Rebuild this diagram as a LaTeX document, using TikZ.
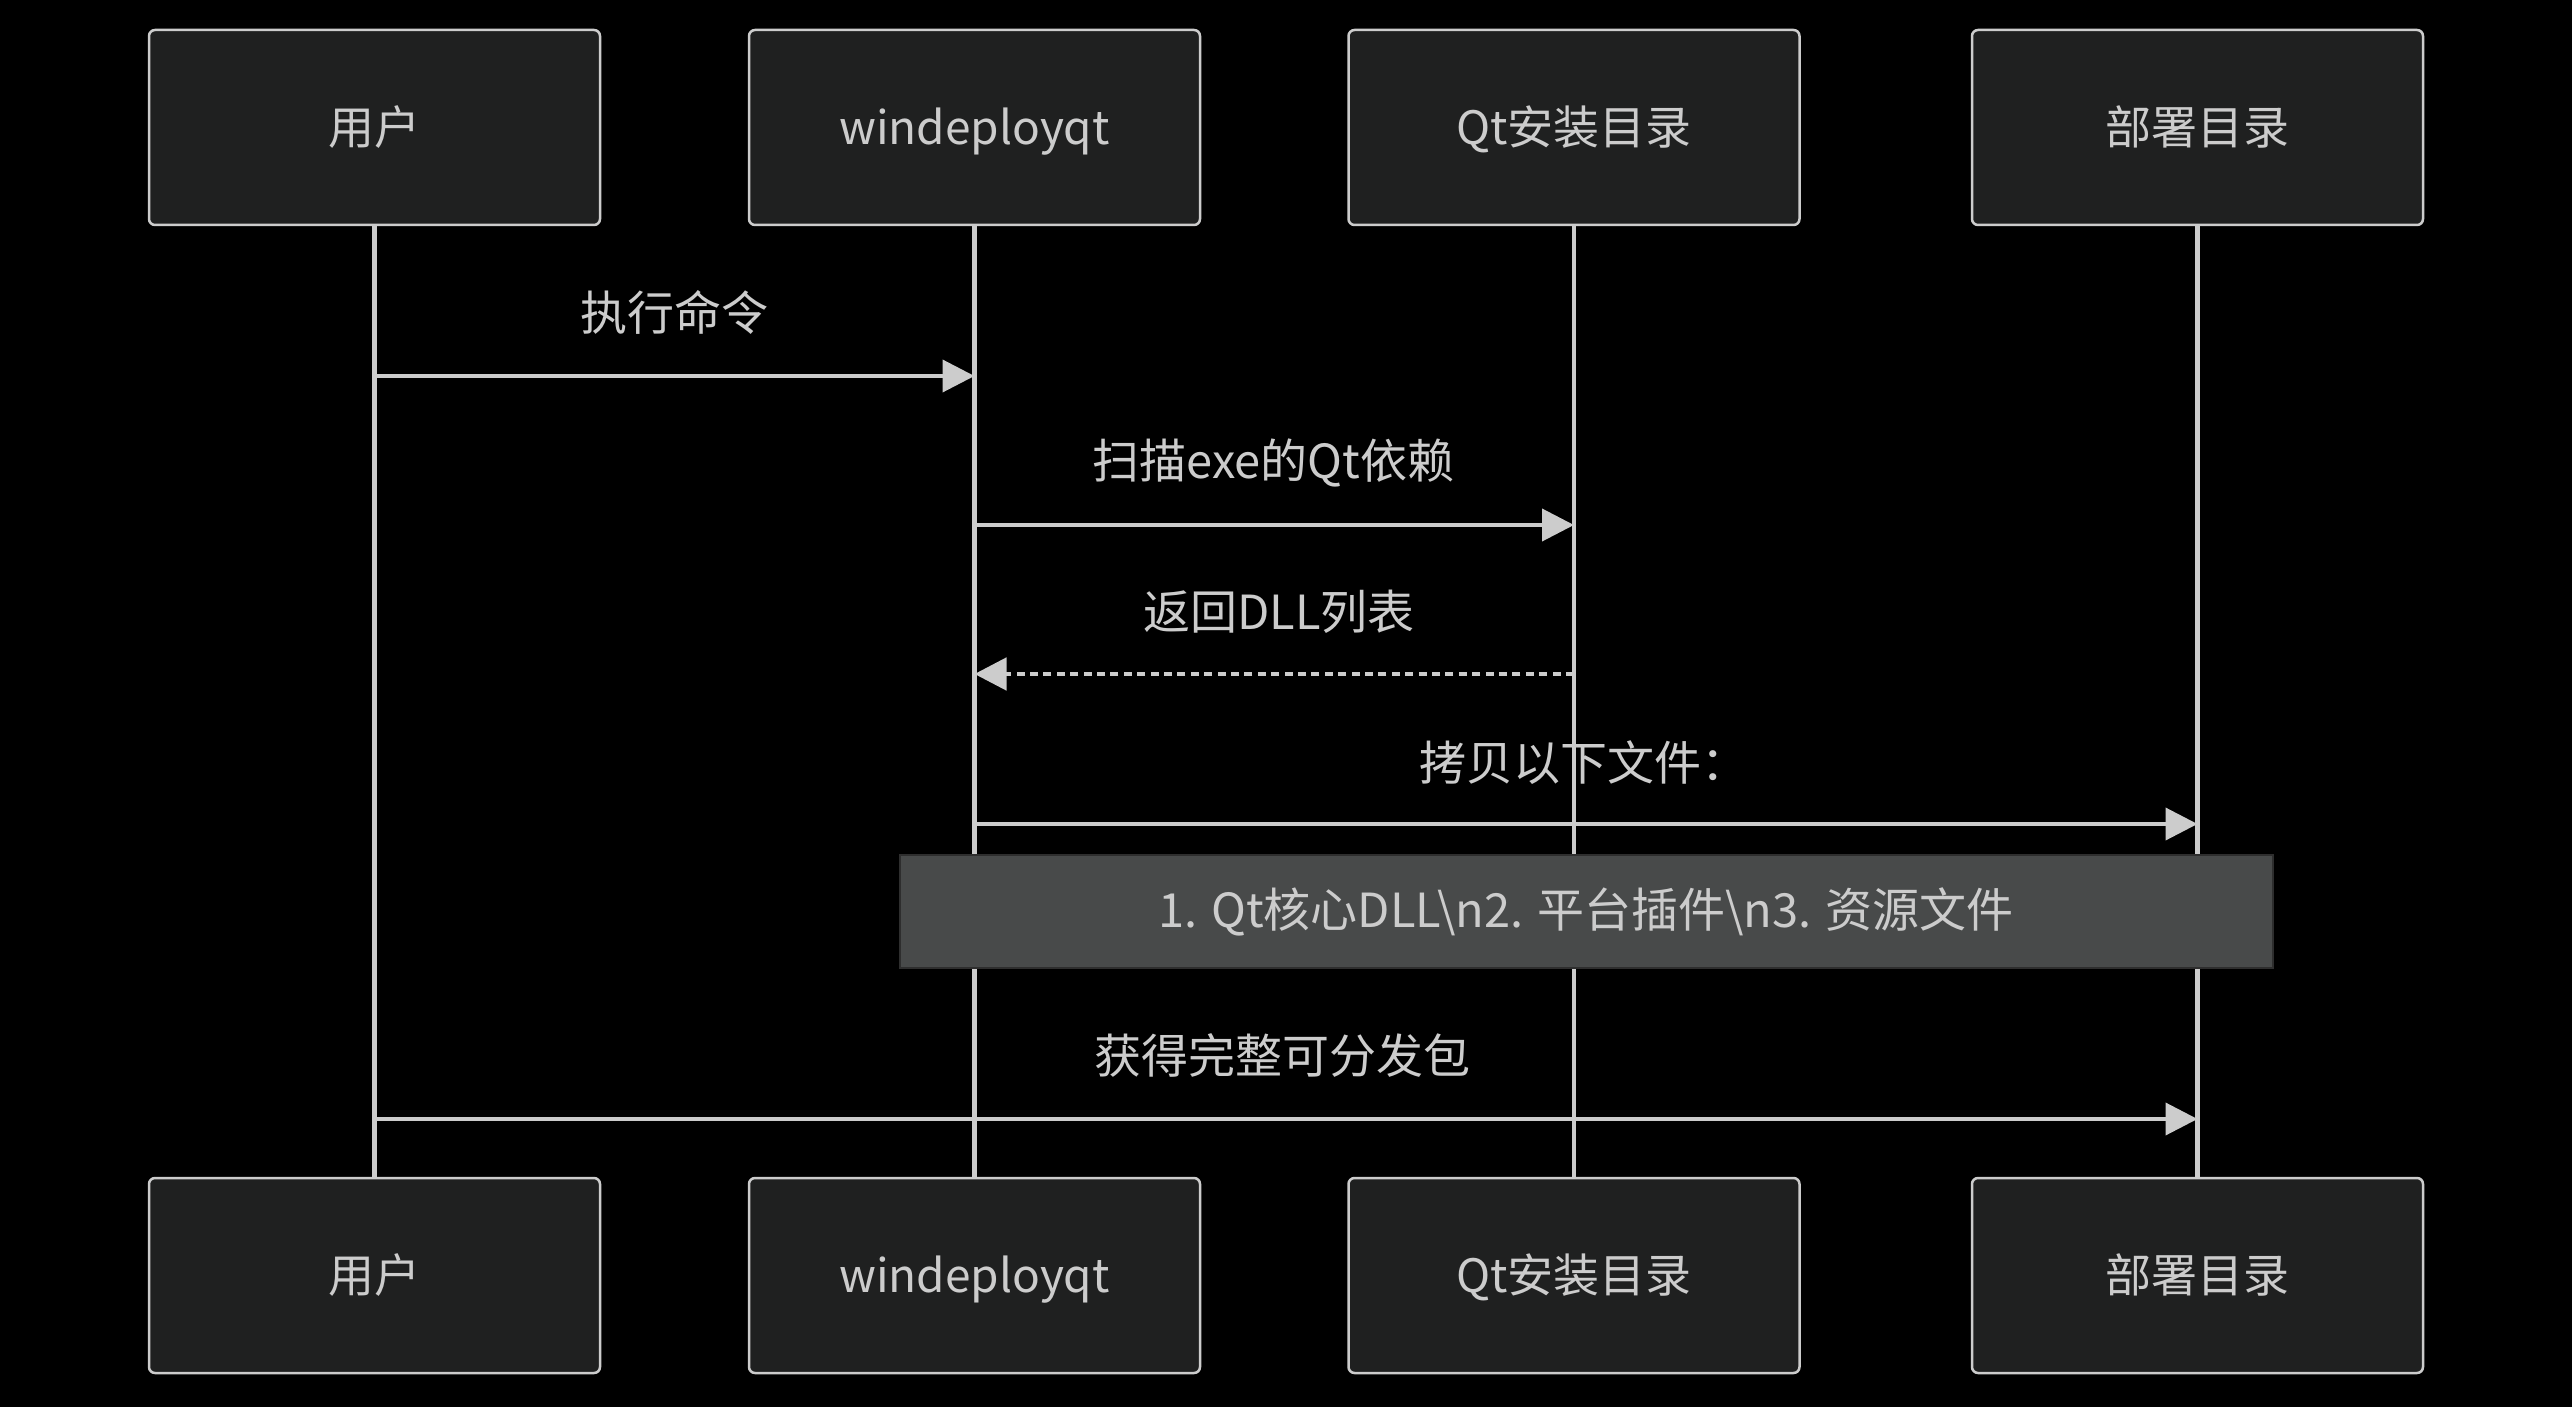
\documentclass[tikz,border=0pt]{standalone}
\usepackage{fontspec}
\setmainfont{Noto Sans CJK SC}
\usetikzlibrary{arrows.meta}
\definecolor{actorfill}{HTML}{1F2020}
\definecolor{linegray}{HTML}{CCCCCC}
\definecolor{notefill}{HTML}{484A4A}
\definecolor{noteborder}{HTML}{2E2E2E}
\begin{document}
\begin{tikzpicture}[x=0.5pt,y=-0.5pt,
  actor/.style={draw=linegray, line width=1.25pt, fill=actorfill, rounded corners=3pt,
    minimum width=225.5pt, minimum height=97.5pt, text=linegray,
    font=\fontsize{23}{28}\selectfont, inner sep=0pt, text height=20pt, text depth=3pt},
  lifeline/.style={draw=linegray, line width=2.2pt},
  msg/.style={draw=linegray, line width=2pt, -{Triangle[length=16pt,width=16pt]}},
  reply/.style={msg, line width=2.4pt, dash pattern=on 4pt off 2.7pt},
  msglabel/.style={text=linegray, font=\fontsize{23.5}{28}\selectfont, inner sep=0pt},
  notebox/.style={draw=noteborder, line width=1pt, fill=notefill, text=linegray,
    minimum width=686.5pt, minimum height=56.5pt, inner sep=0pt,
    font=\fontsize{23.5}{28}\selectfont}
]
\fill[black] (0,0) rectangle (2572,1407);
\useasboundingbox (0,0) rectangle (2572,1407);

% actors top
\node[actor] (u1) at (374.5,127.5) {用户};
\node[actor] (w1) at (974.5,127.5) {windeployqt};
\node[actor] (q1) at (1574,127.5) {Qt安装目录};
\node[actor] (d1) at (2197.5,127.5) {部署目录};
% actors bottom
\node[actor] (u2) at (374.5,1275.5) {用户};
\node[actor] (w2) at (974.5,1275.5) {windeployqt};
\node[actor] (q2) at (1574,1275.5) {Qt安装目录};
\node[actor] (d2) at (2197.5,1275.5) {部署目录};

% lifelines
\draw[lifeline] (u1.south) -- (u2.north);
\draw[lifeline] (w1.south) -- (w2.north);
\draw[lifeline] (q1.south) -- (q2.north);
\draw[lifeline] (d1.south) -- (d2.north);

% message anchor points
\coordinate (m1a) at (u1.south |- 0,376);
\coordinate (m1b) at (w1.south |- 0,376);
\coordinate (m2a) at (w1.south |- 0,525);
\coordinate (m2b) at (q1.south |- 0,525);
\coordinate (m3a) at (q1.south |- 0,674);
\coordinate (m3b) at (w1.south |- 0,674);
\coordinate (m4a) at (w1.south |- 0,824);
\coordinate (m4b) at (d1.south |- 0,824);
\coordinate (m5a) at (u1.south |- 0,1119);
\coordinate (m5b) at (d1.south |- 0,1119);

\draw[msg] (m1a) -- (m1b);
\draw[msg] (m2a) -- (m2b);
\draw[reply] (m3a) -- (m3b);
\draw[msg] (m4a) -- (m4b);
\draw[msg] (m5a) -- (m5b);

\node[msglabel] (l1) at (674.5,312) {执行命令};
\node[msglabel] (l2) at (1273.5,463) {扫描exe的Qt依赖};
\node[msglabel] (l3) at (1279,612) {返回DLL列表};
\node[msglabel] (l4) at (1584,763) {拷贝以下文件：};
\node[msglabel] (l5) at (1282,1055) {获得完整可分发包};

% note
\node[notebox] (n1) at (1586,911.5) {1. Qt核心DLL\textbackslash n2. 平台插件\textbackslash n3. 资源文件};
\end{tikzpicture}
\end{document}
